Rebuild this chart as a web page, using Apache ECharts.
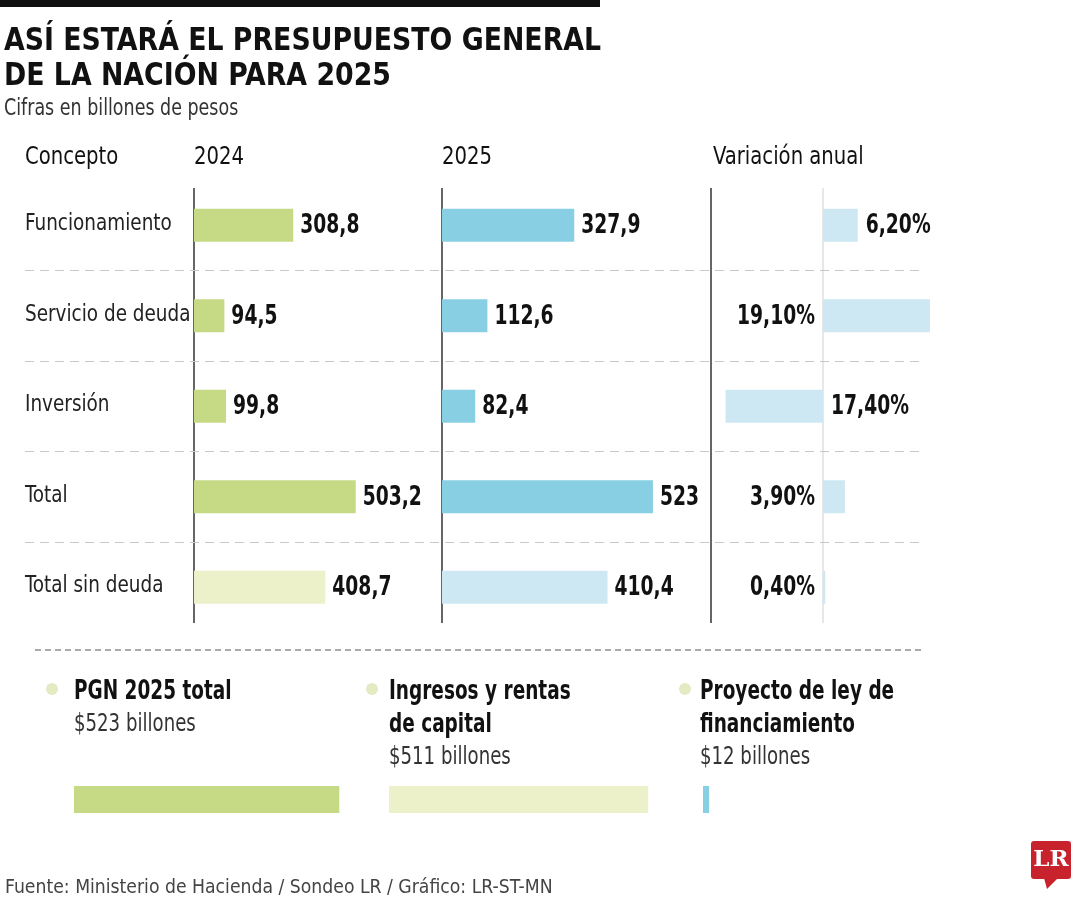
<!DOCTYPE html>
<html><head><meta charset="utf-8">
<script src="https://cdn.jsdelivr.net/npm/echarts@6.0.0/dist/echarts.min.js"></script>
<style>html,body{margin:0;padding:0;background:#fff}#c{width:1080px;height:900px}</style>
</head><body><div id="c"></div>
<script>
// ---- data ----
const categories = ['Funcionamiento', 'Servicio de deuda', 'Inversión', 'Total', 'Total sin deuda'];
const values2024 = [308.8, 94.5, 99.8, 503.2, 408.7];
const values2025 = [327.9, 112.6, 82.4, 523, 410.4];
const variation = [6.2, 19.1, -17.4, 3.9, 0.4];
const headers = ['Concepto', '2024', '2025', 'Variación anual'];
const summaryTitles = [['PGN 2025 total'], ['Ingresos y rentas', 'de capital'], ['Proyecto de ley de', 'financiamiento']];
const summaryValues = [523, 511, 12];
const titleLines = ['ASÍ ESTARÁ EL PRESUPUESTO GENERAL', 'DE LA NACIÓN PARA 2025'];
const subtitle = 'Cifras en billones de pesos';
const source = 'Fuente: Ministerio de Hacienda / Sondeo LR / Gráfico: LR-ST-MN';

// ---- style ----
const FONT = "'DejaVu Sans Condensed','Liberation Sans Narrow',sans-serif";
const GREEN = '#c6d985', GREEN_L = '#ecf1c9', BLUE = '#88cfe4', BLUE_L = '#cde8f2';
const varLabelSide = ['right', 'left', 'right', 'left', 'left'];
const summaryColors = [GREEN, GREEN_L, BLUE];
const ROW_TOP = 180, ROW_H = 452.5;
const GB = {left: 25, top: ROW_TOP, width: 897, height: ROW_H};
const G24 = {left: 194, top: ROW_TOP, width: 241, height: ROW_H};
const G25 = {left: 442, top: ROW_TOP, width: 242, height: ROW_H};
const GV = {left: 711, top: ROW_TOP, width: 224, height: ROW_H};
const sumX = [74, 389, 703], sumTextX = [74, 389, 700], dotOffset = [-22, -17, -15];
const LINE_Y0 = 188, LINE_Y1 = 623;
const VAL_FONT = "bold 26px " + FONT, VAL_SX = 0.8;

const fmt = v => String(v).replace('.', ',');
const fmtPct = v => Math.abs(v).toFixed(2).replace('.', ',') + '%';
const lastIdx = categories.length - 1;

function txt(x, y, text, font, sx, fill, align) {
  return {type: 'text', x: x, y: y, scaleX: sx, silent: true,
    style: {text: text, x: 0, y: 0, font: font, fill: fill || '#111', align: align || 'left', verticalAlign: 'middle'}};
}

const grids = [GB, G24, G25, GV];
sumX.forEach(x => grids.push({left: x, top: 786, width: 279, height: 27}));

const xAxes = [
  {gridIndex: 0, type: 'value', show: false, min: 0, max: 1},
  {gridIndex: 1, type: 'value', show: false, min: 0, max: 750},
  {gridIndex: 2, type: 'value', show: false, min: 0, max: 600},
  {gridIndex: 3, type: 'value', show: false, min: -20, max: 20}
];
const yAxes = [
  {gridIndex: 0, type: 'category', inverse: true, data: categories,
   axisLine: {show: false}, axisTick: {show: false}, axisLabel: {show: false},
   splitLine: {show: true, showMinLine: false, showMaxLine: false, lineStyle: {color: '#c9c9c9', type: [9, 6], width: 1}}},
  {gridIndex: 1, type: 'category', inverse: true, data: categories, show: false},
  {gridIndex: 2, type: 'category', inverse: true, data: categories, show: false},
  {gridIndex: 3, type: 'category', inverse: true, data: categories, show: false}
];
sumX.forEach((x, i) => {
  xAxes.push({gridIndex: 4 + i, type: 'value', show: false, min: 0, max: 550});
  yAxes.push({gridIndex: 4 + i, type: 'category', data: [''], show: false});
});

// label series: text placed through the axes' own coordinates
function labelSeries(axisIdx, values, sides, formatter, dist) {
  return {
    type: 'custom', xAxisIndex: axisIdx, yAxisIndex: axisIdx, silent: true, z: 5,
    encode: {x: 0, y: 1},
    data: values.map((v, i) => [v, i]),
    renderItem: function (params, api) {
      const v = api.value(0), i = api.value(1);
      const end = api.coord([v, i]), zero = api.coord([0, i]);
      const side = sides ? sides[i] : 'right';
      const x = side === 'right' ? Math.max(end[0], zero[0]) + dist : Math.min(end[0], zero[0]) - dist;
      return txt(x, end[1] + 1, formatter(v), VAL_FONT, VAL_SX, '#111', side === 'right' ? 'left' : 'right');
    }
  };
}

const series = [
  {type: 'bar', xAxisIndex: 1, yAxisIndex: 1, barWidth: 33, silent: true,
   data: values2024.map((v, i) => ({value: v, itemStyle: {color: i === lastIdx ? GREEN_L : GREEN}}))},
  {type: 'bar', xAxisIndex: 2, yAxisIndex: 2, barWidth: 33, silent: true,
   data: values2025.map((v, i) => ({value: v, itemStyle: {color: i === lastIdx ? BLUE_L : BLUE}}))},
  {type: 'bar', xAxisIndex: 3, yAxisIndex: 3, barWidth: 33, silent: true,
   itemStyle: {color: BLUE_L}, data: variation},
  labelSeries(1, values2024, null, fmt, 7),
  labelSeries(2, values2025, null, fmt, 7),
  labelSeries(3, variation, varLabelSide, fmtPct, 8),
  {type: 'custom', xAxisIndex: 0, yAxisIndex: 0, silent: true, encode: {x: 0, y: 1},
   data: categories.map((c, i) => [0, i]),
   renderItem: function (params, api) {
     const p = api.coord([0, api.value(1)]);
     return txt(p[0], p[1] - 1, categories[api.value(1)], "23px " + FONT, 0.89, '#222');
   }}
];
summaryValues.forEach((v, i) => {
  series.push({type: 'bar', xAxisIndex: 4 + i, yAxisIndex: 4 + i, barWidth: 27, silent: true,
    itemStyle: {color: summaryColors[i]}, data: [v]});
});

// ---- decorations / texts ----
const g = [];
g.push({type: 'rect', shape: {x: 0, y: 0, width: 600, height: 7}, style: {fill: '#111'}});
titleLines.forEach((t, i) => g.push(txt(4, 42 + i * 35, t, "bold 32px " + FONT, 0.93, '#111')));
g.push(txt(4, 109, subtitle, "23px " + FONT, 0.845, '#333'));
const headX = [25, G24.left, G25.left, GV.left + 2];
headers.forEach((h, i) => g.push(txt(headX[i], 158, h, "24px " + FONT, 0.91, '#111')));
// vertical dividers
[G24.left, G25.left, GV.left].forEach(x => g.push({type: 'line', silent: true, shape: {x1: x, y1: LINE_Y0, x2: x, y2: LINE_Y1},
  style: {stroke: '#333', lineWidth: 1.5}}));
g.push({type: 'line', silent: true, shape: {x1: GV.left + GV.width / 2, y1: LINE_Y0, x2: GV.left + GV.width / 2, y2: LINE_Y1},
  style: {stroke: '#cfcfcf', lineWidth: 1}});
// bottom dashed separator
g.push({type: 'line', silent: true, shape: {x1: 35, y1: 650, x2: 925, y2: 650}, style: {stroke: '#555', lineWidth: 1, lineDash: [6, 4]}});
// summary texts
summaryTitles.forEach((lines, i) => {
  g.push({type: 'circle', silent: true, shape: {cx: sumTextX[i] + dotOffset[i], cy: 689, r: 6}, style: {fill: '#e4ebc3'}});
  lines.forEach((t, j) => g.push(txt(sumTextX[i], 692 + j * 33, t, "bold 26px " + FONT, 0.79, '#111')));
  g.push(txt(sumTextX[i], 692 + lines.length * 33, '$' + summaryValues[i] + ' billones', "24px " + FONT, 0.84, '#333'));
});
// source
g.push(txt(5, 888, source, "20px " + FONT, 0.96, '#444'));
// logo
g.push({type: 'rect', silent: true, shape: {x: 1031, y: 841, width: 40, height: 38, r: 3}, style: {fill: '#c8232c'}});
g.push({type: 'polygon', silent: true, shape: {points: [[1044, 878], [1058, 878], [1047, 889]]}, style: {fill: '#c8232c'}});
g.push({type: 'text', silent: true, style: {text: 'LR', x: 1051, y: 860, align: 'center', verticalAlign: 'middle',
  font: "bold 23px 'DejaVu Serif','Liberation Serif',serif", fill: '#fff'}});

const chart = echarts.init(document.getElementById('c'), null, {renderer: 'canvas'});
chart.setOption({
  animation: false,
  backgroundColor: '#fff',
  grid: grids,
  xAxis: xAxes,
  yAxis: yAxes,
  series: series,
  graphic: g
});
</script></body></html>
